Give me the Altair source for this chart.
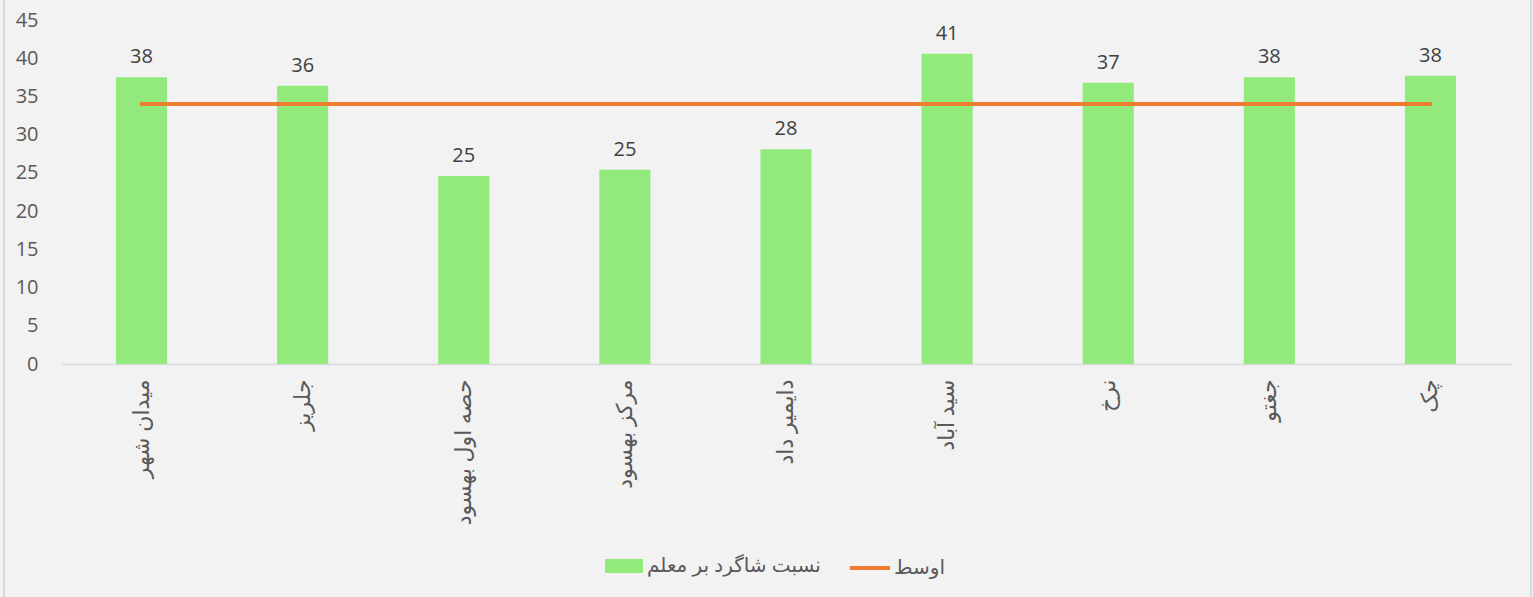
import altair as alt
import pandas as pd

districts = ["میدان شهر", "جلریز", "حصه اول  بهسود", "مرکز بهسود", "دایمیر داد",
             "سید آباد", "نرخ", "جغتو", "چک"]
ratio = [37.5, 36.4, 24.6, 25.4, 28.1, 40.6, 36.8, 37.5, 37.7]
average = [34.0, 34.0, 34.0, 34.0, 34.0, 34.0, 34.0, 34.0, 34.0]
bar_name = "نسبت شاگرد بر معلم"
line_name = "اوسط"
y_ticks = [0, 5, 10, 15, 20, 25, 30, 35, 40, 45]

df = pd.DataFrame({
    "district": districts,
    "ratio": ratio,
    "avg": average,
    "bar_series": [bar_name] * len(districts),
    "line_series": [line_name] * len(districts),
})

FONT = "Open Sans, DejaVu Sans, sans-serif"
LABEL = "#595959"

x = alt.X(
    "district:N", sort=districts, title=None,
    scale=alt.Scale(paddingInner=0.683, paddingOuter=0.3415),
    axis=alt.Axis(labelAngle=270, labelAlign="right", labelBaseline="middle",
                  ticks=False, domainColor="#d9d9d9", domainWidth=1.5,
                  labelPadding=15, labelFontSize=22, labelColor=LABEL,
                  labelFont=FONT, labelLimit=300),
)
y_axis = alt.Axis(values=y_ticks, grid=False, domain=False, ticks=False,
                  labelOverlap=False, tickCount=10,
                  labelPadding=23, labelFontSize=20, labelColor=LABEL,
                  labelFont=FONT, title=None)
y_scale = alt.Scale(domain=[0, 45], nice=False)
y = alt.Y("ratio:Q", title=None, scale=y_scale, axis=y_axis)

base = alt.Chart(df)

bars = base.mark_bar().encode(
    x=x, y=y,
    fill=alt.Fill("bar_series:N",
                  scale=alt.Scale(domain=[bar_name], range=["#92EA7C"]),
                  legend=alt.Legend(title=None, orient="none", legendX=543, legendY=526,
                                    symbolType="M-0.95,-0.35H0.95V0.35H-0.95Z",
                                    symbolSize=1600, symbolStrokeWidth=0,
                                    labelFontSize=20, labelColor=LABEL, labelFont=FONT,
                                    labelOffset=3, labelLimit=400)),
)

labels = base.mark_text(baseline="alphabetic", dy=-14, fontSize=20, color="#404040",
                        font=FONT).encode(
    x=x, y=y, text=alt.Text("ratio:Q", format=".0f"))

line = base.mark_line(strokeWidth=4, strokeCap="round").encode(
    x=x,
    y=alt.Y("avg:Q", title=None, scale=y_scale, axis=y_axis),
    stroke=alt.Stroke("line_series:N",
                      scale=alt.Scale(domain=[line_name], range=["#ED7D31"]),
                      legend=alt.Legend(title=None, orient="none", legendX=787, legendY=526,
                                        symbolType="stroke", symbolSize=1600,
                                        symbolStrokeWidth=4,
                                        labelFontSize=20, labelColor=LABEL, labelFont=FONT,
                                        labelOffset=2, labelLimit=400)),
)

border_df = pd.DataFrame({"k": [0]})
left_border = alt.Chart(border_df).mark_rule(color="#d9d9d9", strokeWidth=2).encode(
    x=alt.value(-57), y=alt.value(-20), y2=alt.value(577))
right_border = alt.Chart(border_df).mark_rule(color="#d9d9d9", strokeWidth=2).encode(
    x=alt.value(1470), y=alt.value(-20), y2=alt.value(577))

chart = alt.layer(bars, line, labels, left_border, right_border).properties(
    width=1450, height=344,
    autosize=alt.AutoSizeParams(type="none"),
    padding={"left": 61, "top": 20, "right": 22, "bottom": 233},
    background="#f2f2f2",
).resolve_scale(y="shared").configure_view(strokeWidth=0)

chart.save("out.html", embed_options={"renderer": "svg", "actions": False})
